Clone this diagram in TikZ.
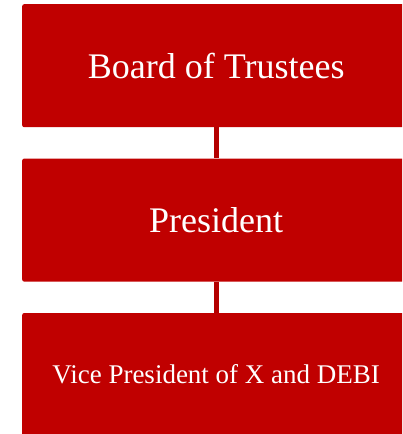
\documentclass[tikz,border=0pt]{standalone}
\usepackage{fontspec}
\setmainfont{Liberation Serif}
\usepackage{xcolor}
\usepackage{tikz}
\usetikzlibrary{positioning}
\definecolor{boxred}{HTML}{C00000}
\definecolor{linkred}{HTML}{B40000}

\begin{document}
\begin{tikzpicture}[x=1pt,y=1pt,
  orgbox/.style={fill=boxred,rounded corners=2pt,minimum width=388pt,minimum height=123pt,
    text=white,inner sep=0pt,anchor=north west},
  link/.style={draw=linkred,line width=5pt}]
\useasboundingbox(0,0)rectangle(402,-434);
\clip(0,0)rectangle(402,-434);
\node[orgbox,font=\fontsize{36}{40}\selectfont](board)at(22,-4){Board of Trustees};
\node[orgbox,font=\fontsize{36}{40}\selectfont,below=31pt of board.south west,anchor=north west](pres){President};
\node[orgbox,font=\fontsize{27}{30}\selectfont,below=31pt of pres.south west,anchor=north west](vp){Vice President of X and DEBI};
% links between the levels
\draw[link,gray!40,xshift=1.5pt](board.south)--(pres.north);
\draw[link,gray!40,xshift=1.5pt](pres.south)--(vp.north);
\draw[link](board.south)--(pres.north);
\draw[link](pres.south)--(vp.north);
\end{tikzpicture}
\end{document}
